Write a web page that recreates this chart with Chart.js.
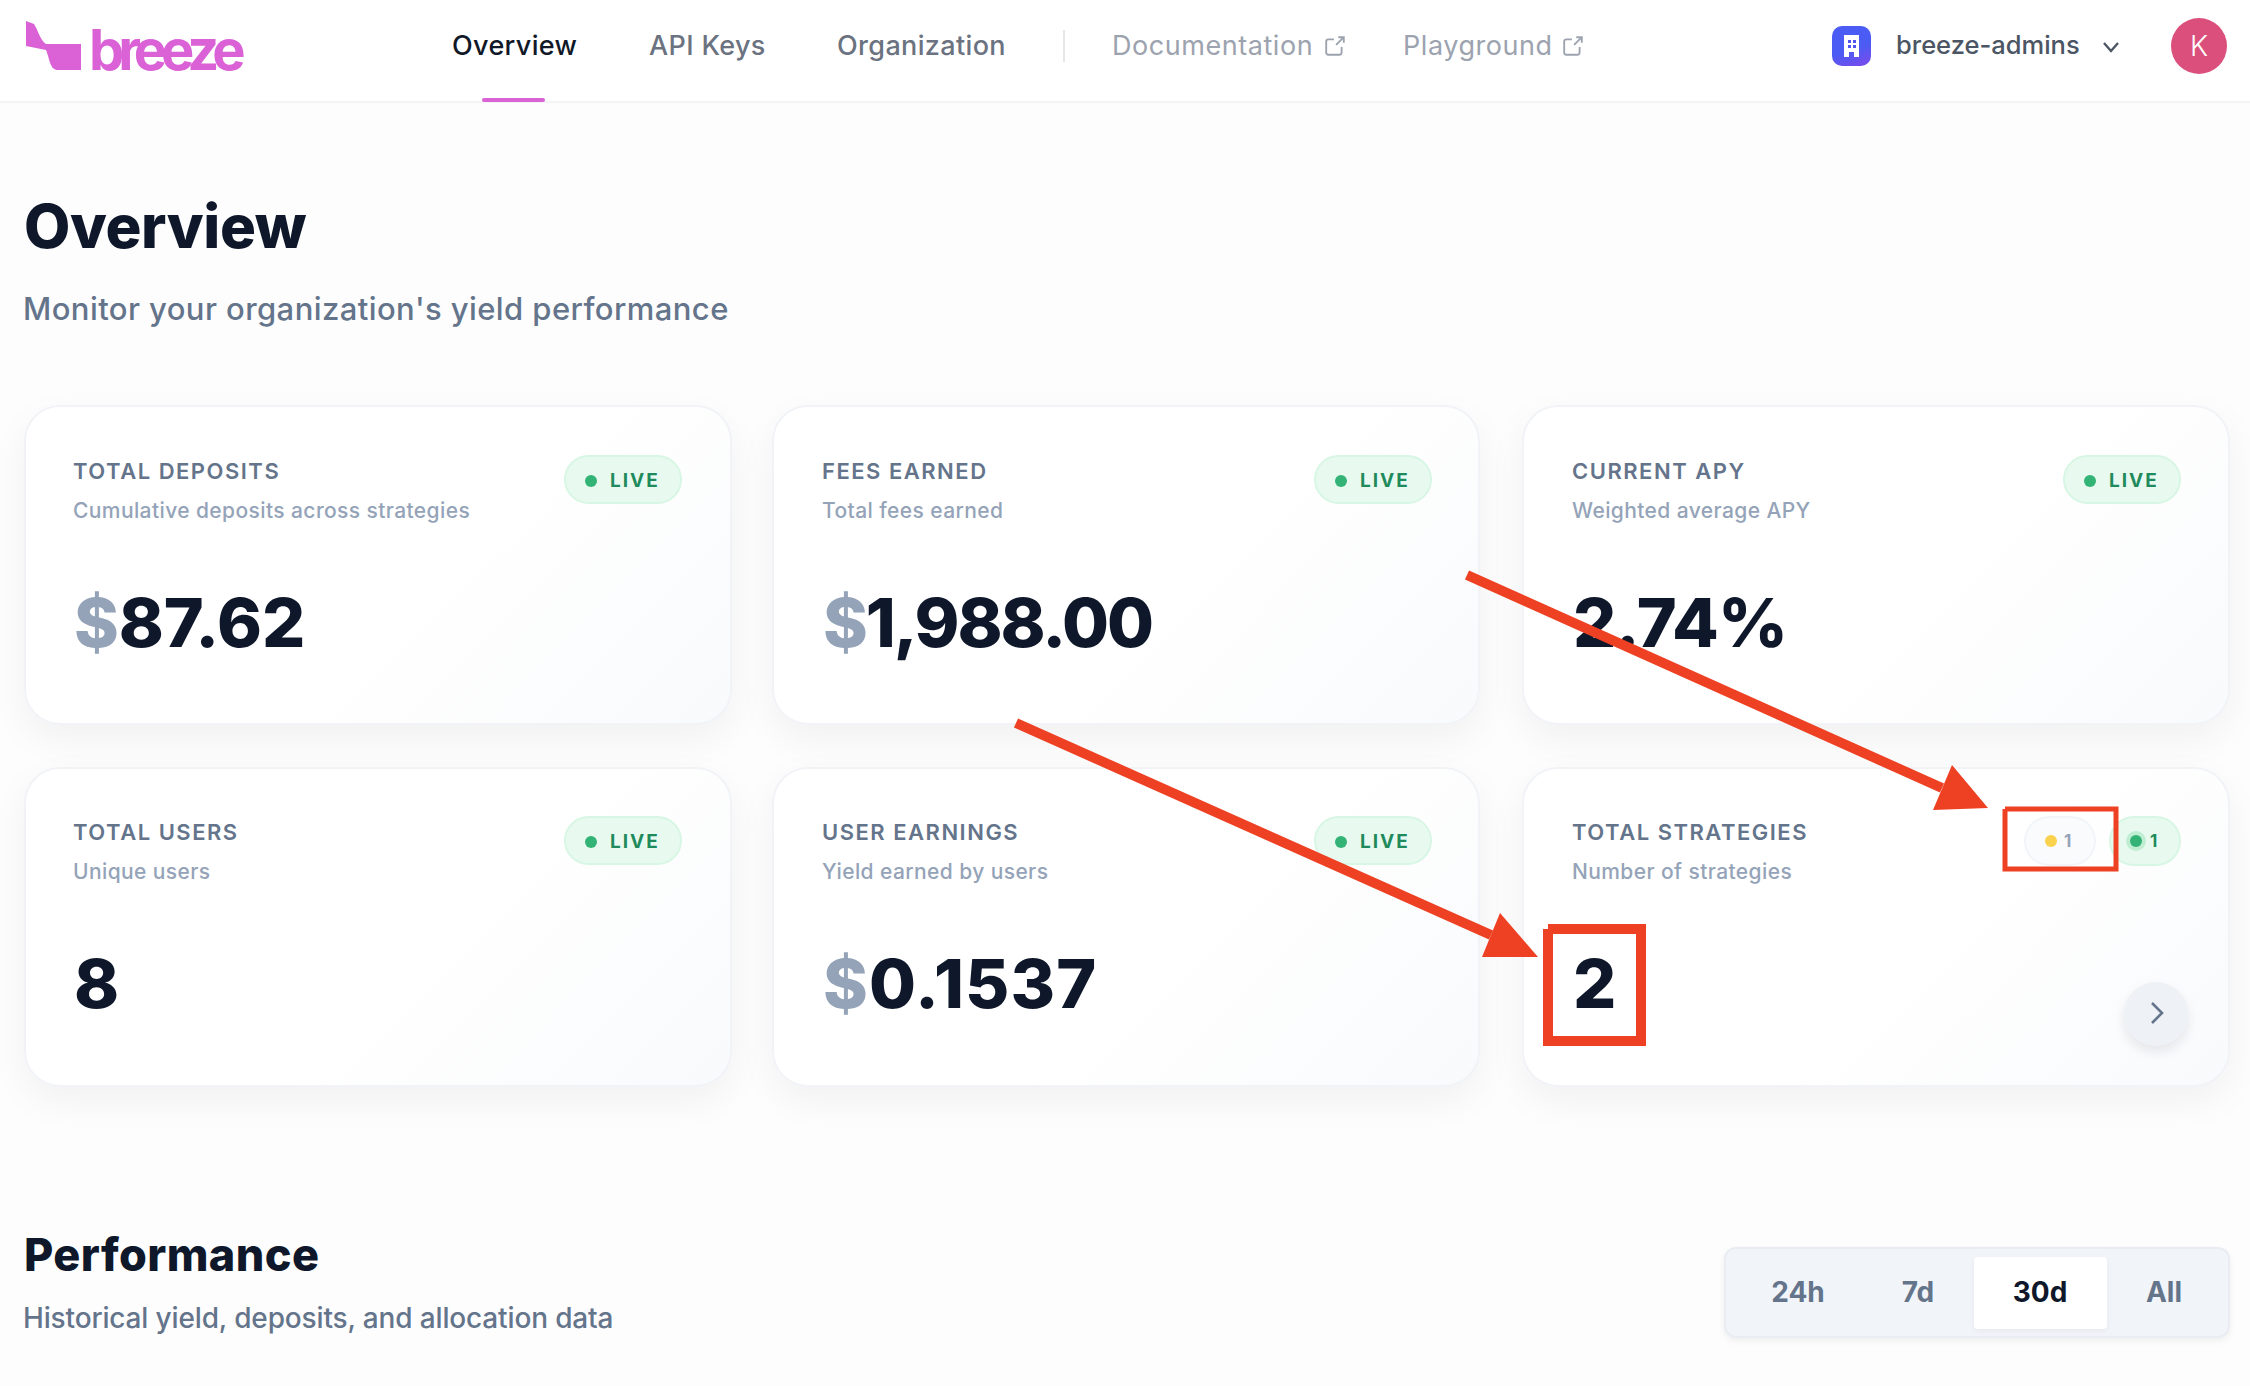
<!DOCTYPE html>
<html>
<head>
<meta charset="utf-8">
<title>Overview</title>
<script src="https://cdn.jsdelivr.net/npm/chart.js@4"></script>
<style>
  html, body { margin: 0; padding: 0; background: #fdfdfd; }
  body { width: 2250px; height: 1386px; overflow: hidden; position: relative; font-family: Inter, sans-serif; }
  .t { position: absolute; line-height: 1; white-space: nowrap; }
  .box { position: absolute; box-sizing: border-box; }
  .card { border-radius: 36px; border: 2px solid #f1f3f7;
          background: linear-gradient(135deg, #fff 55%, #f9fafc 100%);
          box-shadow: 0 14px 38px rgba(15, 23, 42, 0.05); }
  .pill { border-radius: 25px; border: 2px solid #d8f6e4; background: #e8faf0; }
  #arrows { position: absolute; left: 0; top: 0; z-index: 5; }
</style>
</head>
<body>
<div id="page"></div>
<canvas id="arrows" width="2250" height="1386" style="width:2250px;height:1386px"></canvas>
<script>
// text of the page
let navLinks = ["Overview", "API Keys", "Organization"];
let externalLinks = ["Documentation", "Playground"];
let kpiTitles = ["TOTAL DEPOSITS", "FEES EARNED", "CURRENT APY", "TOTAL USERS", "USER EARNINGS", "TOTAL STRATEGIES"];
let kpiNotes = ["Cumulative deposits across strategies", "Total fees earned", "Weighted average APY", "Unique users", "Yield earned by users", "Number of strategies"];
let kpiUnits = ["$", "$", "", "", "$", ""];
let kpiValues = ["87.62", "1,988.00", "2.74%", "8", "0.1537", "2"];
let rangeLabels = ["24h", "7d", "30d", "All"];

// callouts drawn on top of the screenshot in its own pixels
let shaftOneX = [1467, 1942];
let shaftOneY = [575, 788];
let headOneX = [1952, 1988, 1933, 1952];
let headOneY = [765, 808, 810, 765];
let shaftTwoX = [1016, 1491];
let shaftTwoY = [723, 935];
let headTwoX = [1500, 1538, 1482, 1500];
let headTwoY = [913, 957, 957, 913];
let frameOneX = [2005, 2116, 2116, 2005, 2005];
let frameOneY = [809, 809, 869, 869, 809];
let frameTwoX = [1548, 1641, 1641, 1548, 1548];
let frameTwoY = [929, 929, 1041, 1041, 929];

const page = document.getElementById("page");

function text(str, x, capTop, size, weight, color, extra) {
  const el = document.createElement("div");
  el.className = "t";
  el.textContent = str;
  el.style.cssText = `left:${x}px;top:${capTop - 0.137 * size}px;font-size:${size}px;font-weight:${weight};color:${color};` + (extra || "");
  page.appendChild(el);
  return el;
}

function box(x, y, w, h, cls, extra) {
  const el = document.createElement("div");
  el.className = "box " + (cls || "");
  el.style.cssText = `left:${x}px;top:${y}px;width:${w}px;height:${h}px;` + (extra || "");
  page.appendChild(el);
  return el;
}

function svg(x, y, w, h, vb, inner) {
  const el = box(x, y, w, h);
  el.innerHTML = `<svg width="${w}" height="${h}" viewBox="${vb}" style="display:block">${inner}</svg>`;
  return el;
}

// header
box(0, 0, 2250, 103, "", "background:#fff;border-bottom:2px solid #f3f4f6");
svg(20, 15, 70, 60, "20 15 70 60", '<path d="M26 21 L34 24 C38 30 40 40 46 44 L81 44 L81 70 L58 70 C50 70 50 60 46 50 L26 46 Z" fill="#da62d6"/>');
text("breeze", 89, 30, 56, 700, "#da62d6", "letter-spacing:-6px");

const navX = [452, 649, 837];
navLinks.forEach((n, i) => text(n, navX[i], 36, 27, 500, i === 0 ? "#111827" : "#6b7280", "letter-spacing:.35px"));
box(482, 98, 63, 4, "", "background:#d962d4;border-radius:2px");
box(1063, 30, 2, 32, "", "background:#e5e7eb");

const extX = [1112, 1403];
const extIconX = [1324, 1562];
const extIcon = '<path d="M9 4 H4 a2 2 0 0 0 -2 2 V16 a2 2 0 0 0 2 2 H14 a2 2 0 0 0 2 -2 V11 M11 9 L18 2 M13 2 H18 V7" fill="none" stroke="#9ca3af" stroke-width="1.7"/>';
externalLinks.forEach((n, i) => {
  text(n, extX[i], 36, 27, 400, "#9ca3af", "letter-spacing:.55px");
  svg(extIconX[i], 35, 22, 22, "0 0 20 20", extIcon);
});

box(1832, 26, 39, 40, "", "border-radius:10px;background:linear-gradient(160deg,#4a5cf3 55%,#7d4aec)");
svg(1840, 34, 23, 24, "0 0 23 24", '<path d="M4 1 H19 V23 H14 V18 H9 V23 H4 Z" fill="#fff"/><rect x="8" y="6" width="3" height="3" fill="#5553f0"/><rect x="13" y="6" width="3" height="3" fill="#5553f0"/><rect x="8" y="11" width="3" height="3" fill="#5553f0"/><rect x="13" y="11" width="3" height="3" fill="#5553f0"/>');
text("breeze-admins", 1896, 35, 25.5, 500, "#4b5563");
svg(2102, 41, 18, 12, "0 0 18 12", '<path d="M2 2 L9 10 L16 2" fill="none" stroke="#4b5563" stroke-width="2.4"/>');
box(2171, 18, 56, 56, "", "border-radius:50%;background:#db4f7c");
text("K", 2190, 36, 28, 300, "#fff");

// page heading
text("Overview", 24, 204, 60, 800, "#0f172a", "letter-spacing:-.4px");
text("Monitor your organization's yield performance", 23, 297, 31, 500, "#64748b", "letter-spacing:.42px");

// cards
const cardX = [24, 772, 1522];
const cardY = [405, 767];
const cardTextX = [73, 822, 1572];
const pillX = [564, 1314, 2063];
const valueSpacing = [-0.1, -2.1, -0.8, -2, 1.1, -2];
kpiTitles.forEach((title, i) => {
  const col = i % 3;
  const x = cardTextX[col];
  const y = cardY[Math.floor(i / 3)];
  const top = i < 3 ? y + 1 : y;
  box(cardX[col], y, 708, 320, "card");
  text(title, x, top + 57, 22, 600, "#64748b", "letter-spacing:1.5px");
  text(kpiNotes[i], x, top + 97, 21, 500, "#94a3b8", "letter-spacing:.4px");
  const v = text(kpiValues[i], x + 1, top + 191, 68, 800, "#0f172a", `letter-spacing:${valueSpacing[i]}px`);
  if (kpiUnits[i]) {
    const unit = document.createElement("span");
    unit.textContent = kpiUnits[i];
    unit.style.color = "#94a3b8";
    v.prepend(unit);
  }
  if (i < 5) {
    box(pillX[col], top + 49, 118, 49, "pill");
    box(pillX[col] + 21, top + 69, 12, 12, "", "border-radius:50%;background:#34b377");
    text("LIVE", pillX[col] + 46, top + 68, 19, 700, "#1f8a5b", "letter-spacing:2px");
  }
});

// strategy badges in the last card
box(2024, 816, 72, 50, "pill", "background:#fafbfc;border-color:#f1f5f9");
box(2045, 835, 12, 12, "", "border-radius:50%;background:#fbd24e");
text("1", 2064, 835, 17, 700, "#94a3b8");
box(2109, 816, 72, 50, "pill");
box(2126, 831, 20, 20, "", "border-radius:50%;background:#bfeed3");
box(2130, 835, 12, 12, "", "border-radius:50%;background:#34b377");
text("1", 2150, 835, 17, 700, "#1f8a5b");
box(2124, 982, 64, 64, "", "border-radius:50%;background:#eef2f7;box-shadow:0 6px 12px rgba(15,23,42,.09)");
svg(2149, 1000, 16, 26, "0 0 16 26", '<path d="M3 3 L13 13 L3 23" fill="none" stroke="#64748b" stroke-width="2.6"/>');

// performance heading and range switch
text("Performance", 24, 1238, 45, 800, "#0f172a", "letter-spacing:.4px");
text("Historical yield, deposits, and allocation data", 23, 1308, 28, 500, "#64748b", "letter-spacing:-.15px");
box(1724, 1247, 506, 91, "", "border-radius:12px;background:#f1f5f9;border:2px solid #e9edf3;box-shadow:0 3px 7px rgba(15,23,42,.06)");
box(1974, 1257, 133, 72, "", "border-radius:4px;background:#fff;box-shadow:0 2px 6px rgba(15,23,42,.05)");
const rangeX = [1798, 1918, 2040, 2164];
rangeLabels.forEach((r, i) => {
  text(r, rangeX[i], 1282, 28, 700, i === 2 ? "#0f172a" : "#64748b", "transform:translateX(-50%)");
});

// red callouts, on a full page chart whose scales are the picture's own pixels
function series(xs, ys) {
  return xs.map((x, i) => ({ x: x, y: ys[i] }));
}
const red = "#ee4023";
function line(xs, ys, width) {
  return { data: series(xs, ys), showLine: true, borderColor: red, borderWidth: width, pointRadius: 0, tension: 0, fill: false, borderJoinStyle: "miter" };
}
function head(xs, ys) {
  return { data: series(xs, ys), showLine: true, borderColor: red, borderWidth: 0, backgroundColor: red, pointRadius: 0, tension: 0, fill: "shape" };
}

new Chart(document.getElementById("arrows"), {
  type: "scatter",
  data: {
    datasets: [
      line(shaftOneX, shaftOneY, 10),
      head(headOneX, headOneY),
      line(shaftTwoX, shaftTwoY, 10),
      head(headTwoX, headTwoY),
      line(frameOneX, frameOneY, 5),
      line(frameTwoX, frameTwoY, 10)
    ]
  },
  options: {
    responsive: false,
    animation: false,
    devicePixelRatio: 1,
    layout: { padding: 0 },
    plugins: { legend: { display: false }, tooltip: { enabled: false }, title: { display: false } },
    scales: {
      x: { type: "linear", display: false, min: 0, max: 2250 },
      y: { type: "linear", display: false, min: 0, max: 1386, reverse: true }
    }
  }
});
</script>
</body>
</html>
